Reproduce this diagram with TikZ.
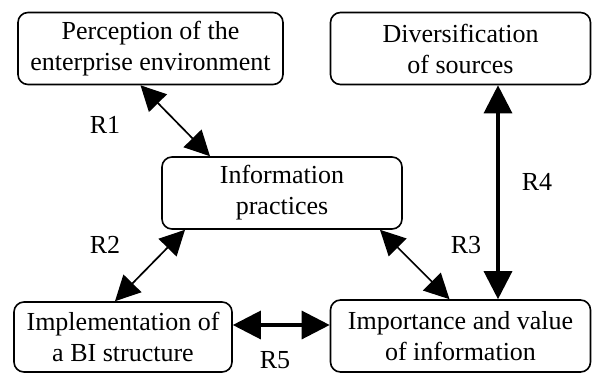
\documentclass[tikz,border=0pt]{standalone}
\usepackage{fontspec}
\setmainfont{Liberation Serif}
\usetikzlibrary{arrows.meta,calc}
\begin{document}
\begin{tikzpicture}[x=1pt,y=-1pt,
  box/.style={draw,line width=1.6pt,rounded corners=10pt,align=center,inner sep=0pt,
    font=\fontsize{26}{31}\selectfont},
  thin/.style={line width=1.7pt,{Triangle[length=25pt,width=25pt]}-{Triangle[length=25pt,width=25pt]}},
  thick/.style={line width=3.2pt,{Triangle[length=28pt,width=28pt]}-{Triangle[length=28pt,width=28pt]}},
  lbl/.style={font=\fontsize{26}{31}\selectfont,inner sep=0pt}]
\useasboundingbox (0,0) rectangle (592,375);
\node[box,minimum width=265pt,minimum height=72pt] (perc) at (150.5,48.5) {Perception of the\\enterprise environment};
\node[box,minimum width=260pt,minimum height=72pt] (div) at (460.5,48.5) {Diversification\\of sources};
\node[box,minimum width=240pt,minimum height=72pt] (info) at (282,193) {Information\\practices};
\node[box,minimum width=218pt,minimum height=70pt] (impl) at (123,337) {Implementation of\\a BI structure};
\node[box,minimum width=260pt,minimum height=72pt] (imp) at (460.5,336) {Importance and value\\of information};
\draw[thin] ([xshift=-10pt]perc.south) -- ([xshift=-72pt]info.north);
\draw[thin] ([xshift=-97pt]info.south) -- ([xshift=-8pt]impl.north);
\draw[thin] ([xshift=98pt]info.south) -- ([xshift=-11pt]imp.north);
\draw[thick] ([xshift=37.5pt]div.south) -- ([xshift=37.5pt]imp.north);
\draw[thick] ([yshift=12pt]impl.east) -- ([yshift=12pt]impl.east -| imp.west);
\node[lbl] (r1) at (105,125) {R1};
\node[lbl] (r2) at (105,245) {R2};
\node[lbl] (r3) at (466,245) {R3};
\node[lbl] (r4) at (537,182) {R4};
\node[lbl] (r5) at (275,360) {R5};
\end{tikzpicture}
\end{document}
